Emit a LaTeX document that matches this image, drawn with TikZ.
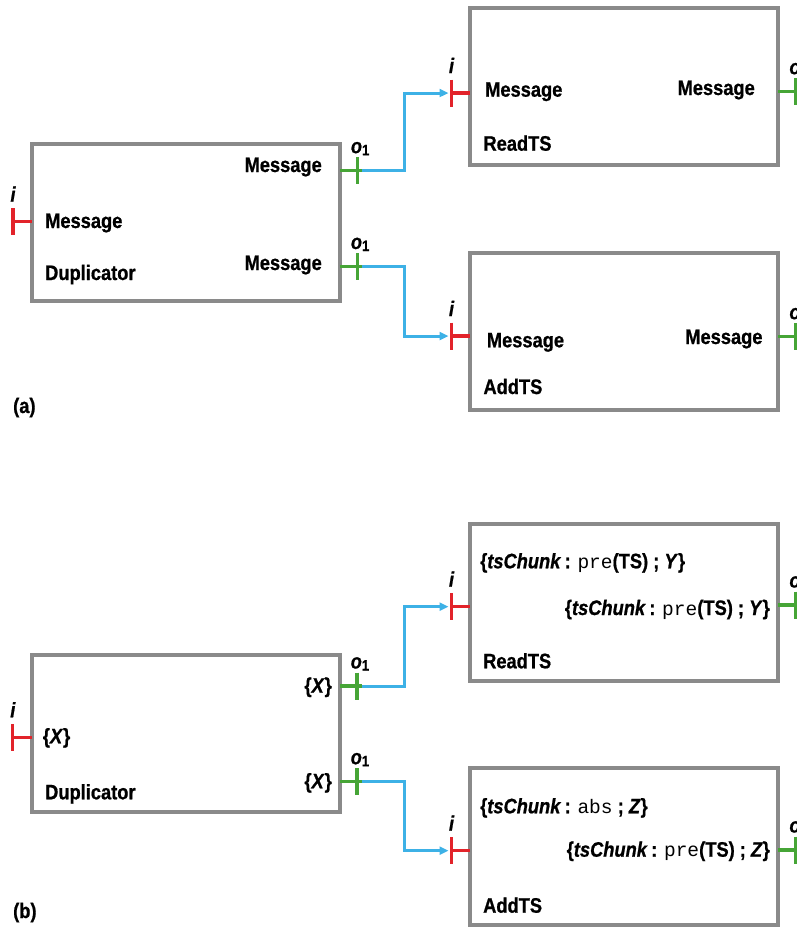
\documentclass[tikz,border=0pt]{standalone}
\usepackage{fontspec}
\setmainfont{Liberation Sans}[FakeStretch=0.87, BoldFeatures={FakeBold=0.8}, BoldItalicFeatures={FakeBold=0.8}]
\setmonofont{Liberation Mono}[Scale=0.93]
\usetikzlibrary{arrows.meta}
\definecolor{boxgray}{HTML}{8A8A8A}
\definecolor{portred}{HTML}{E2232A}
\definecolor{portgreen}{HTML}{46A536}
\definecolor{connblue}{HTML}{3DB1E6}
\tikzset{
  box/.style={draw=boxgray, line width=4pt, minimum width=308pt, minimum height=157pt, inner sep=0pt, outer sep=0pt},
  txt/.style={inner sep=0pt, font=\bfseries\fontsize{21}{24}\selectfont},
  lbl/.style={inner sep=0pt, font=\bfseries\itshape\fontsize{21}{24}\selectfont},
  redport/.style={draw=portred, line width=3.3pt},
  greenport/.style={draw=portgreen, line width=3.3pt},
  conn/.style={draw=connblue, line width=3pt, -{Triangle[length=9pt,width=8pt]}, shorten >=3pt},
}
\newcommand\InPort[1]{%
  \draw[redport] (#1) -- ++(-18.7,0) coordinate (#1-bar);
  \draw[redport] ([yshift=13.5pt]#1-bar) -- ([yshift=-13.5pt]#1-bar);
  \node[lbl, anchor=base] (#1-lbl) at ([yshift=20pt]#1-bar) {i};
}
\newcommand\OutPort[1]{%
  \draw[greenport] (#1) -- ++(22,0) coordinate (#1-end);
  \draw[greenport] ([xshift=17.5pt,yshift=13.5pt]#1) -- ([xshift=17.5pt,yshift=-13.5pt]#1);
  \node[lbl, anchor=base west] (#1-lbl) at ([xshift=11pt,yshift=17.5pt]#1) {o\raisebox{-2pt}{\upshape\fontsize{15}{15}\selectfont 1}};
}
\newcommand\TSline[3]{\{\textit{tsChunk}\,: {\mdseries\ttfamily #1}#2 ; \textit{#3}\}}
\begin{document}
\begin{tikzpicture}[x=1pt,y=-1pt]
\useasboundingbox (0,0) rectangle (797,932);
% ---------- (a) ----------
\node[box] (dupA)  at (185.7,222.5) {};
\node[box] (readA) at (624.2,86.4) {};
\node[box] (addA)  at (624.2,331.4) {};
\node[txt, anchor=base west] (dupA-t1) at (45,228) {Message};
\node[txt, anchor=base west] (dupA-t2) at (45,280) {Duplicator};
\node[txt, anchor=base east] (dupA-t3) at (322,172) {Message};
\node[txt, anchor=base east] (dupA-t4) at (322,270) {Message};
\node[txt, anchor=base west] (readA-t1) at (485,96.7) {Message};
\node[txt, anchor=base east] (readA-t2) at (755,95) {Message};
\node[txt, anchor=base west] (readA-t3) at (483.3,150.7) {ReadTS};
\node[txt, anchor=base west] (addA-t1) at (486.7,347.3) {Message};
\node[txt, anchor=base east] (addA-t2) at (762.7,344) {Message};
\node[txt, anchor=base west] (addA-t3) at (483.3,394) {AddTS};
\node[txt, anchor=base west] (labA) at (13,413) {(a)};
\coordinate (dupA-in) at (dupA.west |- 0,221.7);
\coordinate (dupA-o1) at (dupA.east |- 0,170.7);
\coordinate (dupA-o2) at (dupA.east |- 0,266.5);
\coordinate (readA-in) at (readA.west |- 0,93);
\coordinate (readA-out) at (readA.east |- 0,91.7);
\coordinate (addA-in) at (addA.west |- 0,336);
\coordinate (addA-out) at (addA.east |- 0,336.7);
\InPort{dupA-in}
\OutPort{dupA-o1}
\OutPort{dupA-o2}
\InPort{readA-in}
\OutPort{readA-out}
\InPort{addA-in}
\OutPort{addA-out}
\draw[conn] (dupA-o1-end) -- ++(42.7,0) |- (readA-in-bar);
\draw[conn] (dupA-o2-end) -- ++(42.7,0) |- (addA-in-bar);
% ---------- (b) ----------
\node[box] (dupB)  at (185.5,733) {};
\node[box] (readB) at (624.2,602.4) {};
\node[box] (addB)  at (624.2,846.2) {};
\node[txt, anchor=base west] (dupB-t1) at (42.7,743.3) {\{\textit{X}\}};
\node[txt, anchor=base west] (dupB-t2) at (45,799.3) {Duplicator};
\node[txt, anchor=base east] (dupB-t3) at (332,692.7) {\{\textit{X}\}};
\node[txt, anchor=base east] (dupB-t4) at (332,788.3) {\{\textit{X}\}};
\node[txt, anchor=base west] (readB-t1) at (480,568.3) {\TSline{pre}{(TS)}{Y}};
\node[txt, anchor=base east] (readB-t2) at (770,615) {\TSline{pre}{(TS)}{Y}};
\node[txt, anchor=base west] (readB-t3) at (483,668.3) {ReadTS};
\node[txt, anchor=base west] (addB-t1) at (480,813.3) {\TSline{abs}{}{Z}};
\node[txt, anchor=base east] (addB-t2) at (770,856.7) {\TSline{pre}{(TS)}{Z}};
\node[txt, anchor=base west] (addB-t3) at (483,912.7) {AddTS};
\node[txt, anchor=base west] (labB) at (13,918) {(b)};
\coordinate (dupB-in) at (dupB.west |- 0,737.3);
\coordinate (dupB-o1) at (dupB.east |- 0,686);
\coordinate (dupB-o2) at (dupB.east |- 0,781.7);
\coordinate (readB-in) at (readB.west |- 0,606.7);
\coordinate (readB-out) at (readB.east |- 0,605);
\coordinate (addB-in) at (addB.west |- 0,850.7);
\coordinate (addB-out) at (addB.east |- 0,850);
\InPort{dupB-in}
\OutPort{dupB-o1}
\OutPort{dupB-o2}
\InPort{readB-in}
\OutPort{readB-out}
\InPort{addB-in}
\OutPort{addB-out}
\draw[conn] (dupB-o1-end) -- ++(42.7,0) |- (readB-in-bar);
\draw[conn] (dupB-o2-end) -- ++(42.7,0) |- (addB-in-bar);
\end{tikzpicture}
\end{document}
